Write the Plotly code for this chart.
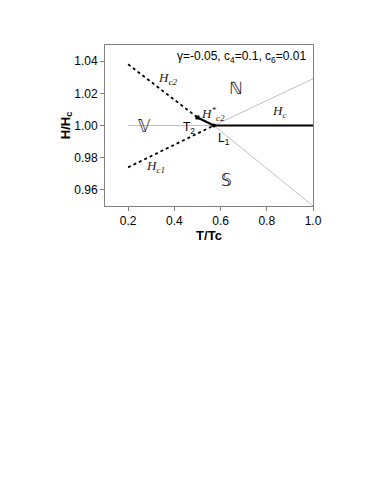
import plotly.graph_objects as go

# Phase boundary data (T/Tc, H/Hc)
hc2_T = [0.2, 0.5]
hc2_H = [1.038, 1.005]
hc2star_T = [0.5, 0.571]
hc2star_H = [1.005, 1.0]
hc1_T = [0.2, 0.571]
hc1_H = [0.974, 1.0]
hc_T = [0.571, 1.0]
hc_H = [1.0, 1.0]
vline_T = [0.2, 0.571]
vline_H = [1.0, 1.0]
upper_T = [0.571, 1.0]
upper_H = [1.0, 1.029]
lower_T = [0.571, 1.0]
lower_H = [1.0, 0.95]
t2_point = ([0.5], [1.005])
l1_point = ([0.571], [1.0])

x_ticks = [0.2, 0.4, 0.6, 0.8, 1.0]
x_ticklabels = ["0.2", "0.4", "0.6", "0.8", "1.0"]
y_ticks = [0.96, 0.98, 1.00, 1.02, 1.04]
y_ticklabels = ["0.96", "0.98", "1.00", "1.02", "1.04"]

fig = go.Figure()
grey = "#c0c0c0"
fig.add_trace(go.Scatter(x=vline_T, y=vline_H, mode="lines", line=dict(color=grey, width=1)))
fig.add_trace(go.Scatter(x=upper_T, y=upper_H, mode="lines", line=dict(color=grey, width=1)))
fig.add_trace(go.Scatter(x=lower_T, y=lower_H, mode="lines", line=dict(color=grey, width=1)))
fig.add_trace(go.Scatter(x=hc2_T, y=hc2_H, mode="lines", line=dict(color="black", width=1.8, dash="dot")))
fig.add_trace(go.Scatter(x=hc1_T, y=hc1_H, mode="lines", line=dict(color="black", width=1.8, dash="dot")))
fig.add_trace(go.Scatter(x=hc2star_T, y=hc2star_H, mode="lines", line=dict(color="black", width=2.2)))
fig.add_trace(go.Scatter(x=hc_T, y=hc_H, mode="lines", line=dict(color="black", width=2.2)))
fig.add_trace(go.Scatter(x=t2_point[0], y=t2_point[1], mode="markers",
                         marker=dict(symbol="square", size=4, color="black")))
fig.add_trace(go.Scatter(x=l1_point[0], y=l1_point[1], mode="markers",
                         marker=dict(symbol="circle", size=4, color="black")))

serif = "Liberation Serif, Times New Roman, serif"
sans = "Liberation Sans, Arial, sans-serif"
ann = [
    dict(x=0.689, y=1.0427, text="γ=-0.05, c<sub>4</sub>=0.1, c<sub>6</sub>=0.01", font=dict(family=sans, size=12, color="black")),
    dict(x=0.371, y=1.0295, text="<i>H<sub>c2</sub></i>", font=dict(family=serif, size=13, color="#222")),
    dict(x=0.667, y=1.0233, text="ℕ", font=dict(family="DejaVu Sans", size=17, color="#222")),
    dict(x=0.566, y=1.0072, text="<i>H<sup>*</sup><sub>c2</sub></i>", font=dict(family=serif, size=13, color="#222")),
    dict(x=0.854, y=1.0086, text="<i>H<sub>c</sub></i>", font=dict(family=serif, size=13, color="#222")),
    dict(x=0.269, y=1.0, text="𝕍", font=dict(family="DejaVu Sans", size=17, color="#222")),
    dict(x=0.463, y=0.9985, text="T<sub>2</sub>", font=dict(family=sans, size=12, color="black")),
    dict(x=0.614, y=0.9915, text="L<sub>1</sub>", font=dict(family=sans, size=12, color="black")),
    dict(x=0.32, y=0.9744, text="<i>H<sub>c1</sub></i>", font=dict(family=serif, size=13, color="#222")),
    dict(x=0.624, y=0.9661, text="𝕊", font=dict(family="DejaVu Sans", size=17, color="#222")),
]
for a in ann:
    a.update(xref="x", yref="y", showarrow=False)

fig.update_layout(
    width=382, height=494,
    margin=dict(l=97, r=77, t=37, b=296),
    paper_bgcolor="white", plot_bgcolor="white",
    showlegend=False,
    annotations=ann,
    font=dict(family=sans, size=12, color="black"),
)
axis_common = dict(showline=True, linecolor="#808080", linewidth=1, mirror=True,
                   ticks="outside", ticklen=4, tickcolor="#808080", showgrid=False,
                   zeroline=False, tickfont=dict(family=sans, size=12, color="black"))
fig.update_xaxes(range=[0.1, 1.0], tickvals=x_ticks, ticktext=x_ticklabels,
                 title=dict(text="<b>T/Tc</b>", font=dict(family=sans, size=13, color="black"), standoff=2),
                 **axis_common)
fig.update_yaxes(range=[0.95, 1.05], tickvals=y_ticks, ticktext=y_ticklabels,
                 title=dict(text="<b>H/H<sub>c</sub></b>", font=dict(family=sans, size=13, color="black"), standoff=0),
                 **axis_common)

fig.write_html("out.html")
